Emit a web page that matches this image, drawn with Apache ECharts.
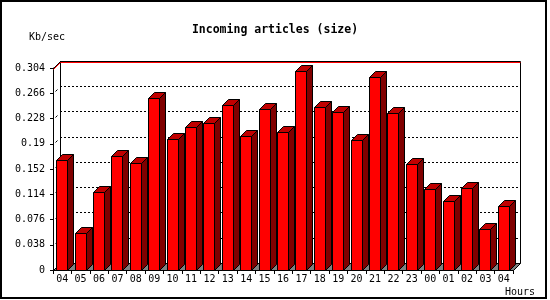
<!DOCTYPE html>
<html><head><meta charset="utf-8">
<script src="https://cdn.jsdelivr.net/npm/echarts@6/dist/echarts.min.js"></script>
<style>html,body{margin:0;padding:0;background:#fff}#c{width:550px;height:300px}</style>
</head><body><div id="c"></div>
<script>
const categories = ['04','05','06','07','08','09','10','11','12','13','14','15','16','17','18','19','20','21','22','23','00','01','02','03','04'];
const values = [0.166,0.055,0.118,0.172,0.161,0.259,0.197,0.215,0.221,0.248,0.201,0.243,0.207,0.300,0.245,0.238,0.196,0.290,0.236,0.160,0.122,0.104,0.124,0.061,0.097];
const yMin = 0, yMax = 0.304, yStep = 0.038;
const titleText = 'Incoming articles (size)';
const yUnit = 'Kb/sec';
const xUnit = 'Hours';

const MONO = '"DejaVu Sans Mono", "Liberation Mono", monospace';
const D = 7;   // depth of the back wall
const BD = 6;  // depth of a bar

function px(v){ return Math.round(v) + 0.5; }

function renderFrame(params, api) {
  const cs = params.coordSys;
  const x = cs.x, y = cs.y, w = cs.width, h = cs.height;
  const L = px(x), R = px(x + w), T = px(y), B = px(y + h);
  const children = [];
  // floor
  children.push({type:'polygon', shape:{points:[[L,B],[L+D,B-D],[R+D,B-D],[R,B]]},
    style:{fill:'#808080', stroke:'#000', lineWidth:1}});
  // back wall outline
  children.push({type:'polyline', shape:{points:[[L+D,B-D],[L+D,T-D],[R+D,T-D],[R+D,B-D]]},
    style:{fill:null, stroke:'#000', lineWidth:1}});
  children.push({type:'line', shape:{x1:L, y1:T, x2:L+D, y2:T-D}, style:{stroke:'#000', lineWidth:1}});
  // red max line
  children.push({type:'polyline', shape:{points:[[L, T+1],[L+D, T-D+1],[R+D, T-D+1]]},
    style:{fill:null, stroke:'#ff0000', lineWidth:1}});
  // small diagonal marks at ticks
  for (let t = yMin + yStep; t < yMax - 1e-9; t += yStep) {
    const yy = Math.round(api.coord([0, t])[1]);
    children.push({type:'line', shape:{x1:L+2, y1:yy-1.5, x2:L+4, y2:yy-3.5}, style:{stroke:'#000', lineWidth:1}});
  }
  return {type:'group', children};
}

function renderBar(params, api) {
  const i = api.value(0), v = api.value(1);
  const base = api.coord([i, 0]);
  const top = api.coord([i, v]);
  const bw = Math.round(api.size([1, 0])[0] * 0.6);
  const x0 = px(base[0] - bw / 2 - 0.5);
  const x1 = x0 + bw;
  const yb = px(base[1]);
  const yt = px(top[1]);
  const st = {stroke:'#000', lineWidth:1};
  return {type:'group', children:[
    {type:'polygon', shape:{points:[[x1,yt],[x1+BD,yt-BD],[x1+BD,yb-BD],[x1,yb]]},
      style:Object.assign({fill:'#800000'}, st)},
    {type:'polygon', shape:{points:[[x0,yt],[x0+BD,yt-BD],[x1+BD,yt-BD],[x1,yt]]},
      style:Object.assign({fill:'#c00000'}, st)},
    {type:'rect', shape:{x:x0, y:yt, width:x1-x0, height:yb-yt},
      style:Object.assign({fill:'#ff0000'}, st)}
  ]};
}

const chart = echarts.init(document.getElementById('c'), null, {renderer:'canvas'});
chart.setOption({
  animation: false,
  backgroundColor: '#fff',
  title: {
    text: titleText, left: 'center', top: 19,
    textStyle: {fontFamily: MONO, fontWeight: 'bold', fontSize: 11.5, color: '#000'}
  },
  grid: [
    {left: 53, top: 68, width: 460, height: 202},
    {left: 60, top: 61, width: 460, height: 202}
  ],
  xAxis: [
    {type:'category', gridIndex:0, data:categories, boundaryGap:true,
      axisLine:{lineStyle:{color:'#000', width:1}},
      axisTick:{show:true, alignWithLabel:false, length:4, lineStyle:{color:'#000'}},
      axisLabel:{interval:0, margin:4, color:'#000', fontFamily:MONO, fontSize:10},
      splitLine:{show:false}},
    {type:'category', gridIndex:1, data:categories, show:false}
  ],
  yAxis: [
    {type:'value', gridIndex:0, min:yMin, max:yMax, interval:yStep,
      axisLine:{show:true, lineStyle:{color:'#000', width:1}},
      axisTick:{show:true, length:3, lineStyle:{color:'#000'}},
      axisLabel:{margin:8, color:'#000', fontFamily:MONO, fontSize:10,
        formatter: v => String(+v.toFixed(3))},
      splitLine:{show:false}},
    {type:'value', gridIndex:1, min:yMin, max:yMax, interval:yStep,
      axisLine:{show:false}, axisTick:{show:false}, axisLabel:{show:false},
      splitLine:{show:true, lineStyle:{color:'#000', width:1, type:[2,2]}}}
  ],
  graphic: [
    {type:'rect', shape:{x:1, y:1, width:545, height:297}, style:{fill:null, stroke:'#000', lineWidth:2}, z:100},
    {type:'text', x:29, y:37, style:{text:yUnit, font:'10px ' + MONO, fill:'#000', verticalAlign:'middle'}},
    {type:'text', x:505, y:292, style:{text:xUnit, font:'10px ' + MONO, fill:'#000', verticalAlign:'middle'}}
  ],
  series: [
    {type:'custom', xAxisIndex:0, yAxisIndex:0, data:[[0, 0]], renderItem:renderFrame, clip:false, z:1, silent:true},
    {type:'custom', xAxisIndex:0, yAxisIndex:0, data:values.map((v, i) => [i, v]),
      encode:{x:0, y:1}, renderItem:renderBar, clip:false, z:3, silent:true}
  ]
});
</script>
</body></html>
